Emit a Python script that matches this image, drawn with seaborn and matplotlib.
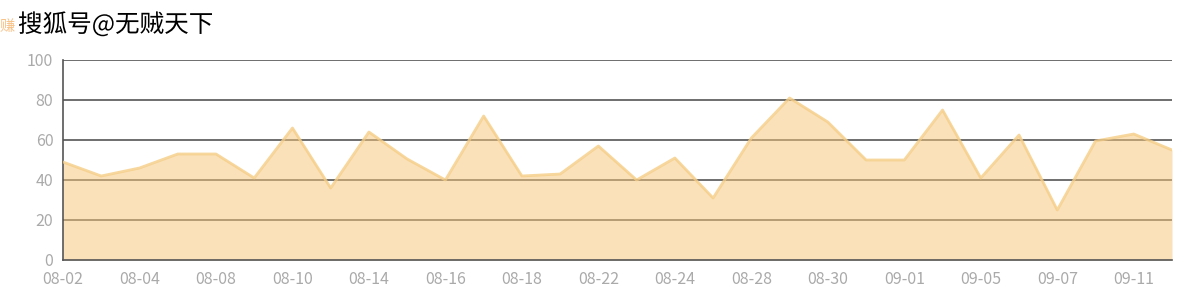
import matplotlib
matplotlib.use("Agg")
import matplotlib.pyplot as plt
import matplotlib.patheffects as pe
import seaborn as sns
import pandas as pd
import numpy as np

dates = ["08-02", "08-03", "08-04", "08-07", "08-08", "08-09", "08-10", "08-11",
         "08-14", "08-15", "08-16", "08-17", "08-18", "08-21", "08-22", "08-23",
         "08-24", "08-25", "08-28", "08-29", "08-30", "08-31", "09-01", "09-04",
         "09-05", "09-06", "09-07", "09-08", "09-11", "09-12"]
values = [49, 42, 46, 53, 53, 41, 66, 36, 64, 50.5, 40, 72, 42, 43, 57, 40,
          51, 31, 61, 81, 69, 50, 50, 75, 41, 62.5, 25, 59.5, 63, 55]
y_ticks = [0, 20, 40, 60, 80, 100]

sns.set_style("white")
plt.rcParams['font.family'] = ['Noto Sans CJK SC', 'DejaVu Sans']

df = pd.DataFrame({"idx": np.arange(len(dates)), "date": dates, "value": values})

fig = plt.figure(figsize=(12.01, 3.02), dpi=100)
ax = fig.add_axes([63/1201, 42/302, (1172-63)/1201, 200/302])

for yv in y_ticks[1:]:
    ax.axhline(yv, color="#555555", lw=1.2, zorder=1)

ax.fill_between(df["idx"], df["value"], 0, color="#F7C77A", alpha=0.52, lw=0, zorder=2)
sns.lineplot(data=df, x="idx", y="value", ax=ax, color="#F5CD85", lw=2, alpha=0.8, zorder=3)

ax.set_xlim(0, len(dates) - 1)
ax.set_ylim(0, 100)
ax.set_yticks(y_ticks)
ax.set_xticks(df["idx"][::2])
ax.set_xticklabels(dates[::2])
ax.set_xlabel("")
ax.set_ylabel("")
for s in ["top", "right"]:
    ax.spines[s].set_visible(False)
for s in ["left", "bottom"]:
    ax.spines[s].set_color("#555555")
    ax.spines[s].set_linewidth(1.2)
ax.tick_params(axis="both", colors="#555555", labelcolor="#AAAAAA", labelsize=11.5,
               length=5, width=1.2, direction="out")
ax.tick_params(axis="x", pad=3)
ax.tick_params(axis="y", pad=2)

fig.text(0 / 1201, 1 - 27 / 302, "赚", color="#F7B46A", fontsize=11, va="center", ha="left", alpha=0.8)
fig.text(18 / 1201, 1 - 25 / 302, "搜狐号@无贼天下", color="black", fontsize=17.7, va="center", ha="left",
         path_effects=[pe.withStroke(linewidth=2.5, foreground="white")])

fig.savefig("out.png", dpi=100)
